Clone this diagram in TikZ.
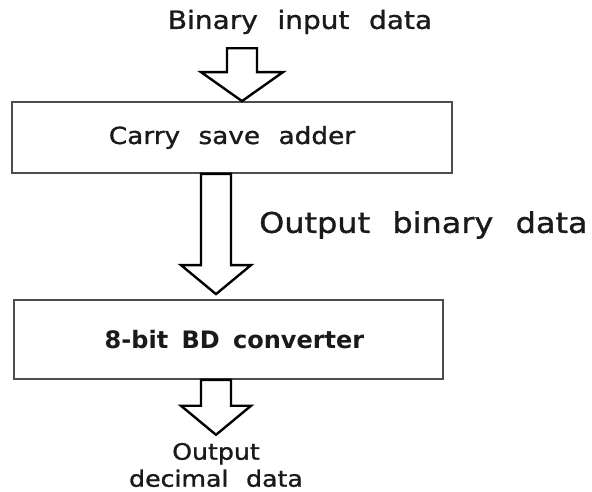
\documentclass[tikz,border=0pt]{standalone}
\usepackage{fontspec}
\setmainfont{DejaVu Sans}[FakeStretch=1.12, WordSpace=2.2, FakeBold=1.2]
\newfontfamily\stagebold{DejaVu Sans Bold}[WordSpace=1.6]
\usetikzlibrary{positioning, calc}
\definecolor{inkgray}{HTML}{1A1A1A}
\definecolor{framegray}{HTML}{4D4D4D}

\tikzset{
  stagebox/.style={rectangle, draw=framegray, line width=1.8pt, fill=white,
                   minimum height=71pt, align=center, text=inkgray,
                   font=\fontsize{23.5}{27}\selectfont},
  flowtxt/.style={text=inkgray, align=center, inner sep=0pt,
                  font=\fontsize{25}{29}\selectfont},
  % hollow block arrow from the start point down to the target point
  fatarrow/.style={draw=black, line width=2.4pt, fill=white,
    to path={let \p1=(\tikztostart), \p2=(\tikztotarget) in
      (\x2-15pt,\y1) -- (\x2-15pt,\y2+29pt) -- (\x2-#1,\y2+29pt)
      -- (\x2,\y2) -- (\x2+#1,\y2+29pt) -- (\x2+15pt,\y2+29pt)
      -- (\x2+15pt,\y1) -- cycle}},
  fatarrow/.default=35pt,
}

\begin{document}
\begin{tikzpicture}[x=1pt, y=-1pt]

  \useasboundingbox (0,0) rectangle (592,492);

  %% Input label and the two stages
  \node[flowtxt] (in) at (300,22) {Binary input data};
  \node[stagebox, minimum width=440pt] (csa) at (232,137.5) {Carry save adder};
  \node[stagebox, minimum width=429pt, minimum height=79pt,
        font=\fontsize{24}{28}\stagebold] (bdc) at (228.5,339.5)
        {\hspace*{12pt}8-bit BD converter};

  %% Output text
  \node[flowtxt, font=\fontsize{28.5}{32}\selectfont, anchor=west] (mid)
        at (259,225) {Output binary data};
  \node[flowtxt, font=\fontsize{22.5}{27}\selectfont] (out) at (216,465)
        {Output\\decimal data};

  %% Block arrows
  \draw[fatarrow=41pt] ([yshift=-14pt]in.south) to ([xshift=10pt]csa.north);
  \draw[fatarrow] (csa.south) to ([xshift=-12.5pt, yshift=5pt]bdc.north);
  \draw[fatarrow] (bdc.south) to ([yshift=8pt]out.north);

\end{tikzpicture}
\end{document}
